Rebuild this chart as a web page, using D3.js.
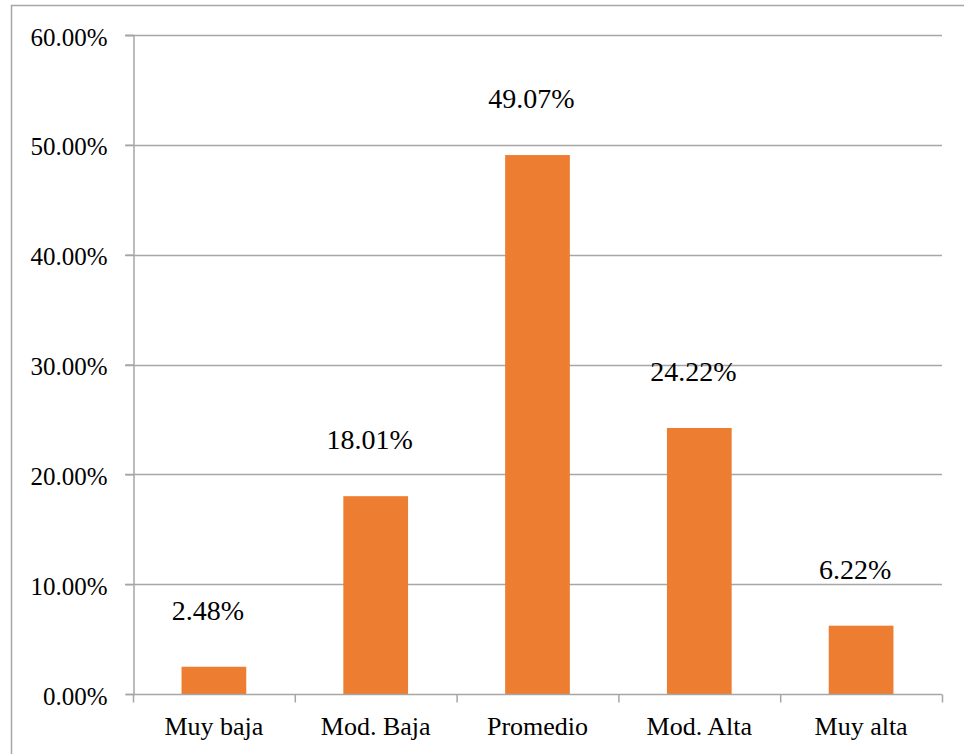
<!DOCTYPE html>
<html>
<head>
<meta charset="utf-8">
<script src="https://cdn.jsdelivr.net/npm/d3@7"></script>
<style>
  html, body { margin: 0; padding: 0; background: #fff; }
  svg { display: block; }
  svg text { font-family: "Liberation Serif", "Times New Roman", Times, serif; fill: #000; }
</style>
</head>
<body>
<svg id="chart" width="964" height="754"></svg>
<script>
const categories = ["Muy baja", "Mod. Baja", "Promedio", "Mod. Alta", "Muy alta"];
const values = [2.48, 18.01, 49.07, 24.22, 6.22];
const yTicks = [0, 10, 20, 30, 40, 50, 60];

const W = 964, H = 754;
const FONT = "'Liberation Serif', 'Times New Roman', Times, serif";
const margin = { left: 133, right: 22, top: 35, bottom: 60 };
const svg = d3.select("#chart");

// outer border
svg.append("rect")
  .attr("x", 11.5).attr("y", 5.5)
  .attr("width", 970).attr("height", 770)
  .attr("fill", "none").attr("stroke", "#a6a6a6").attr("stroke-width", 1.5);

const x = d3.scaleBand()
  .domain(categories)
  .range([margin.left, W - margin.right])
  .paddingInner(0.6).paddingOuter(0.3);

const y = d3.scaleLinear().domain([0, 60]).range([H - margin.bottom, margin.top]);

// gridlines
svg.append("g").selectAll("line").data(yTicks.filter(d => d > 0)).join("line")
  .attr("x1", margin.left - 8).attr("x2", W - margin.right)
  .attr("y1", d => Math.round(y(d)) + 0.5).attr("y2", d => Math.round(y(d)) + 0.5)
  .attr("stroke", "#a6a6a6").attr("stroke-width", 1.5);

// bars
svg.append("g").selectAll("rect").data(values).join("rect")
  .attr("x", (d, i) => x(categories[i]))
  .attr("width", x.bandwidth())
  .attr("y", d => y(d))
  .attr("height", d => y(0) - y(d))
  .attr("fill", "#ED7D31");

// y axis
const yAxis = d3.axisLeft(y).tickValues(yTicks).tickSize(8).tickPadding(18)
  .tickFormat(d => d.toFixed(2) + "%");
const gy = svg.append("g").attr("transform", `translate(${margin.left + 0.5},0)`).call(yAxis);
gy.attr("font-family", FONT).attr("font-size", 25);
gy.select(".domain").attr("stroke", "#a6a6a6").attr("stroke-width", 1.5);
gy.selectAll(".tick line").attr("stroke", "#a6a6a6").attr("stroke-width", 1.5);
gy.selectAll(".tick text").attr("font-size", 25).attr("dy", "0.4em")
  .style("font-family", FONT).attr("fill", "#000");

// x axis
const xOuter = d3.scaleLinear().domain([0, categories.length]).range([margin.left, W - margin.right]);
const gx = svg.append("g").attr("transform", `translate(0,${Math.round(y(0)) + 0.5})`);
gx.append("line").attr("x1", margin.left).attr("x2", W - margin.right)
  .attr("stroke", "#a6a6a6").attr("stroke-width", 1.5);
gx.selectAll("line.tk").data(d3.range(categories.length + 1)).join("line").attr("class", "tk")
  .attr("x1", d => xOuter(d) + 0.5).attr("x2", d => xOuter(d) + 0.5)
  .attr("y1", 0).attr("y2", 8)
  .attr("stroke", "#a6a6a6").attr("stroke-width", 1.5);
gx.selectAll("text").data(categories).join("text")
  .attr("x", d => x(d) + x.bandwidth() / 2)
  .attr("y", 40)
  .attr("text-anchor", "middle")
  .attr("font-size", 26)
  .style("font-family", FONT)
  .text(d => d);

// data labels
svg.append("g").selectAll("text").data(values).join("text")
  .attr("x", (d, i) => x(categories[i]) + x.bandwidth() / 2 - 6)
  .attr("y", d => y(d) - 47)
  .attr("text-anchor", "middle")
  .attr("font-size", 28)
  .style("font-family", FONT)
  .text(d => d.toFixed(2) + "%");
</script>
</body>
</html>
